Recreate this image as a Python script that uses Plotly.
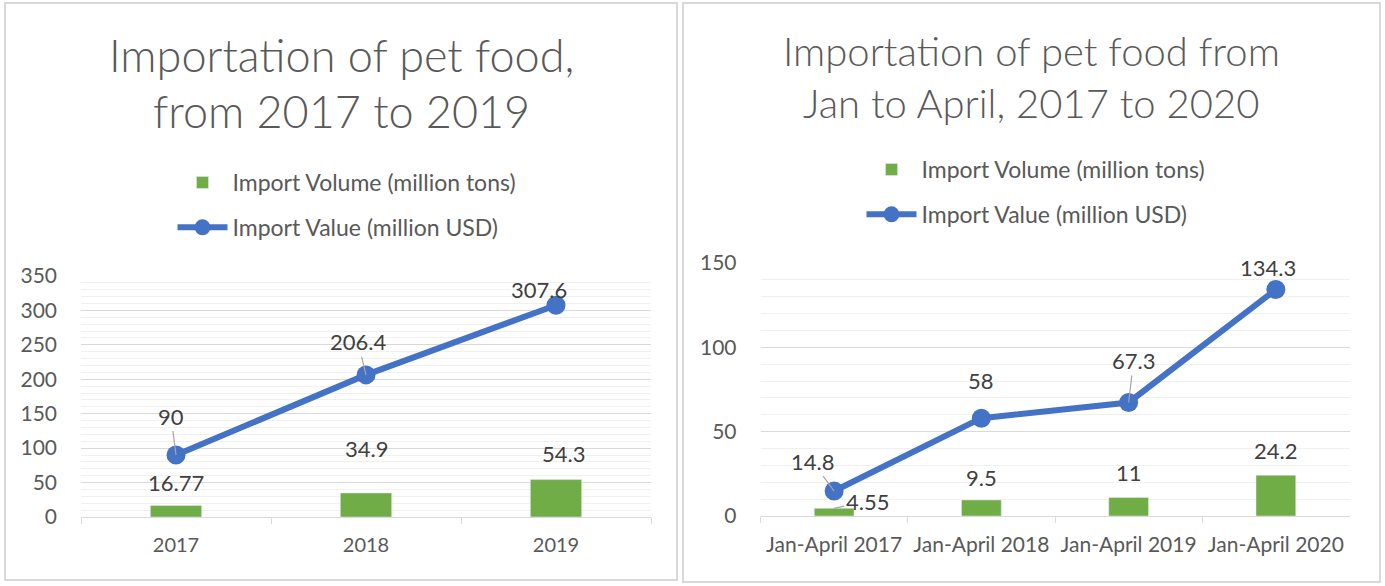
import plotly.graph_objects as go

# ---- data ----
years_left = ["2017", "2018", "2019"]
volume_left = [16.77, 34.9, 54.3]
value_left = [90, 206.4, 307.6]

periods_right = ["Jan-April 2017", "Jan-April 2018", "Jan-April 2019", "Jan-April 2020"]
volume_right = [4.55, 9.5, 11, 24.2]
value_right = [14.8, 58, 67.3, 134.3]

title_left = ["Importation of pet food,", "from 2017 to 2019"]
title_right = ["Importation of pet food from", "Jan to April, 2017 to 2020"]
name_vol = "Import Volume (million tons)"
name_val = "Import Value (million USD)"

W, H = 1385, 586
GREEN = "#70AD47"
BLUE = "#4472C4"
FONT = "Lato"
TXT = "#595959"
LBL = "#404040"


def px(x):
    return x / W


def py(y):
    return 1 - y / H


fig = go.Figure()

fig.add_trace(go.Bar(x=years_left, y=volume_left, name=name_vol, marker_color=GREEN,
                     width=0.27, xaxis="x", yaxis="y", legend="legend", legendgroup="a"))
fig.add_trace(go.Scatter(x=years_left, y=value_left, name=name_val, mode="lines+markers",
                         line=dict(color=BLUE, width=6), marker=dict(size=19, color=BLUE),
                         xaxis="x", yaxis="y", legend="legend", legendgroup="b"))
fig.add_trace(go.Bar(x=periods_right, y=volume_right, name=name_vol, marker_color=GREEN,
                     width=0.27, xaxis="x2", yaxis="y2", legend="legend2", legendgroup="c"))
fig.add_trace(go.Scatter(x=periods_right, y=value_right, name=name_val, mode="lines+markers",
                         line=dict(color=BLUE, width=6), marker=dict(size=19, color=BLUE),
                         xaxis="x2", yaxis="y2", legend="legend2", legendgroup="d"))

axis_common = dict(type="category", showline=True, linecolor="#D9D9D9", linewidth=1,
                   ticks="outside", tickson="boundaries", ticklen=6, tickcolor="#D9D9D9",
                   ticklabelstandoff=10, automargin=False,
                   fixedrange=True, showgrid=False, zeroline=False)
yaxis_common = dict(showgrid=True, gridcolor="#D9D9D9", gridwidth=1, zeroline=False,
                    ticks="", tickfont=dict(family=FONT, size=21, color=TXT),
                    ticklabelstandoff=23, showline=False, automargin=False,
                    minor=dict(dtick=10, showgrid=True, gridcolor="#F0F0F0", gridwidth=1))

legend_font = dict(family=FONT, size=23, color=TXT)

fig.update_layout(
    width=W, height=H, margin=dict(l=0, r=0, t=0, b=0, autoexpand=False),
    paper_bgcolor="white", plot_bgcolor="white", barmode="overlay",
    xaxis=dict(domain=[px(81), px(651)], anchor="y", range=[-0.5, 2.5],
               tickfont=dict(family=FONT, size=20, color=TXT), **axis_common),
    yaxis=dict(domain=[py(517), py(276)], anchor="x", range=[0, 350], dtick=50, **yaxis_common),
    xaxis2=dict(domain=[px(760.5), px(1349.5)], anchor="y2", range=[-0.5, 3.5],
                tickfont=dict(family=FONT, size=21, color=TXT), **axis_common),
    yaxis2=dict(domain=[py(516), py(263)], anchor="x2", range=[0, 150], dtick=50, **yaxis_common),
    legend=dict(x=px(347), xanchor="center", y=py(161), yanchor="top", orientation="v",
                font=legend_font, tracegroupgap=12, bgcolor="rgba(0,0,0,0)", itemwidth=50),
    legend2=dict(x=px(1036), xanchor="center", y=py(148), yanchor="top", orientation="v",
                 font=legend_font, tracegroupgap=12, bgcolor="rgba(0,0,0,0)", itemwidth=50),
    showlegend=True,
)

# panel borders
for x0, x1, y0, y1 in [(5, 677, 3, 580), (683, 1380, 3, 582)]:
    fig.add_shape(type="rect", xref="paper", yref="paper", x0=px(x0), x1=px(x1),
                  y0=py(y0), y1=py(y1), line=dict(color="#D9D9D9", width=2))

# titles
for txt, yy, cx, sz in [(title_left[0], 55, 341, 45), (title_left[1], 111, 341, 45),
                        (title_right[0], 51, 1031, 40), (title_right[1], 103, 1031, 40)]:
    fig.add_annotation(text=txt, xref="paper", yref="paper", x=px(cx), y=py(yy),
                       xanchor="center", yanchor="middle", showarrow=False,
                       font=dict(family=FONT, size=sz, color=TXT, weight=300))

lblfont = dict(family=FONT, size=22, color=LBL)
LEAD = dict(arrowhead=0, arrowcolor="#A6A6A6", arrowwidth=1.2, standoff=0)

# line labels (ax, ay offsets from point in px; leader flag)
line_offsets_left = [(-5, -39, True), (-8, -33, True), (-17, -16, False)]
for i, (yv, (ax, ay, lead)) in enumerate(zip(value_left, line_offsets_left)):
    if lead:
        fig.add_annotation(x=i, y=yv, xref="x", yref="y", text=str(yv), showarrow=True,
                           ax=ax, ay=ay, font=lblfont, **LEAD)
    else:
        fig.add_annotation(x=i, y=yv, xref="x", yref="y", text=str(yv), showarrow=False,
                           xshift=ax, yshift=-ay, font=lblfont)
bar_shift_left = [(0, 23), (0, 44), (7, 26)]
for i, (yv, (dx, dy)) in enumerate(zip(volume_left, bar_shift_left)):
    fig.add_annotation(x=i, y=yv, xref="x", yref="y", text=str(yv), showarrow=False,
                       xshift=dx, yshift=dy, font=lblfont)

line_offsets_right = [(-22, -30, True), (0, -38, False), (5, -42, True), (-8, -22, False)]
for i, (yv, (ax, ay, lead)) in enumerate(zip(value_right, line_offsets_right)):
    if lead:
        fig.add_annotation(x=i, y=yv, xref="x2", yref="y2", text=str(yv), showarrow=True,
                           ax=ax, ay=ay, font=lblfont, **LEAD)
    else:
        fig.add_annotation(x=i, y=yv, xref="x2", yref="y2", text=str(yv), showarrow=False,
                           xshift=ax, yshift=-ay, font=lblfont)
bar_shift_right = [(33, -7, True), (0, 22, False), (0, 25, False), (0, 25, False)]
for i, (yv, (dx, dy, lead)) in enumerate(zip(volume_right, bar_shift_right)):
    if lead:
        fig.add_annotation(x=i, y=yv, xref="x2", yref="y2", text=str(yv), showarrow=True,
                           ax=dx, ay=dy, font=lblfont, **LEAD)
    else:
        fig.add_annotation(x=i, y=yv, xref="x2", yref="y2", text=str(yv), showarrow=False,
                           xshift=dx, yshift=dy, font=lblfont)

fig.write_html("out.html")
